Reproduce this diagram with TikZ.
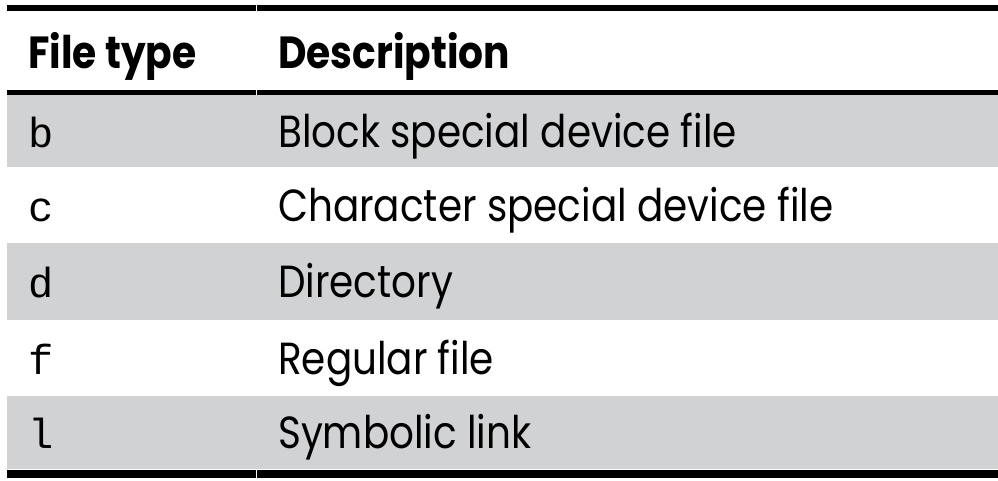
\documentclass[tikz,border=0pt]{standalone}
\usepackage{fontspec}
\setmainfont[FakeStretch=0.865]{Poppins}
\newfontfamily\hdrfont[FakeStretch=0.87]{Poppins Bold}
\newfontfamily\codefont{Liberation Mono}
\definecolor{rowgrey}{HTML}{D1D2D4}
\tikzset{
  rulebar/.style={line width=#1, black},
  hdr/.style={anchor=base west, inner sep=0pt, font=\hdrfont\fontsize{45}{45}\selectfont},
  desc/.style={anchor=base west, inner sep=0pt, font=\fontsize{45}{45}\selectfont},
  code/.style={anchor=base west, inner sep=0pt, font=\codefont\fontsize{42}{42}\selectfont},
}
\begin{document}
\begin{tikzpicture}[x=1pt,y=-1pt]
\useasboundingbox (0,0) rectangle (998,480);
% grey rows
\fill[rowgrey] (7,95) rectangle (998,167);
\fill[rowgrey] (7,243) rectangle (998,320);
\fill[rowgrey] (7,396) rectangle (998,469);
% rules
\draw[rulebar=6pt] (7,8) -- (255.5,8);
\draw[rulebar=6pt] (256.5,8) -- (998,8);
\draw[rulebar=5pt] (7,92.5) -- (255.5,92.5);
\draw[rulebar=5pt] (256.5,92.5) -- (998,92.5);
\draw[rulebar=8pt] (7,474) -- (255.5,474);
\draw[rulebar=8pt] (256.5,474) -- (998,474);
% header
\node[hdr] (h1) at (28,68) {File type};
\node[hdr] (h2) at (278,68) {Description};
% rows
\node[code] (c1) at (28,147) {b};
\node[desc] (d1) at (278,147) {Block special device file};
\node[code] (c2) at (28,221) {c};
\node[desc] (d2) at (278,221) {Character special device file};
\node[code] (c3) at (28,297.5) {d};
\node[desc] (d3) at (278,297.5) {Directory};
\node[code] (c4) at (28,374) {f};
\node[desc] (d4) at (278,374) {Regular file};
\node[code] (c5) at (28,448.5) {l};
\node[desc] (d5) at (278,448.5) {Symbolic link};
\end{tikzpicture}
\end{document}
